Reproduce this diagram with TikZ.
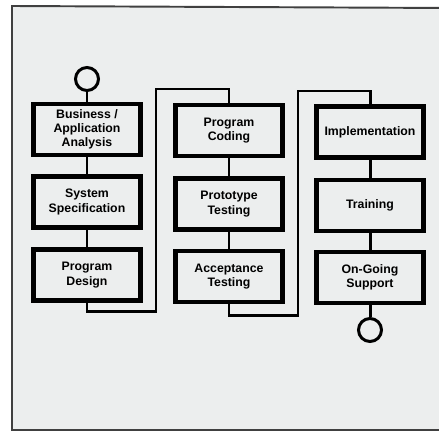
\documentclass[tikz,border=0pt]{standalone}
\usepackage{fontspec}
\setsansfont{Liberation Sans}
\usetikzlibrary{positioning}
\definecolor{paper}{HTML}{ECEEEE}
\tikzset{
    stage/.style={draw, line width=2.3pt, fill=paper, minimum width=2.14cm,
        minimum height=1.02cm, align=center,
        font=\sffamily\bfseries\fontsize{7}{8.1}\selectfont},
    terminal/.style={draw, circle, line width=1.7pt, minimum size=0.46cm, inner sep=0pt},
    link/.style={line width=1.7pt}
}

\begin{document}
\begin{tikzpicture}[x=0.02cm, y=-0.02cm]
        \useasboundingbox (0, 0) rectangle (439, 432);
        \clip (0, 0) rectangle (439, 432);
        \fill[paper] (12, 7) rectangle (450, 430);
        \draw[line width=1.1pt, black!75] (450, 8) -- (12, 6) -- (12, 430) -- (450, 430);
        % first column
        \node[stage] (ba) at (87, 129.5) {Business /\\Application\\Analysis};
        \node[stage] (ss) at (87, 202) {System\\Specification};
        \node[stage] (pd) at (87, 275) {Program\\Design};
        % second column
        \node[stage] (pc) at (229, 130.5) {Program\\Coding};
        \node[stage] (pt) at (229, 204) {Prototype\\Testing};
        \node[stage] (at) at (229, 276.5) {Acceptance\\Testing};
        % third column
        \node[stage] (im) at (370, 132) {Implementation};
        \node[stage] (tr) at (370, 205.5) {Training};
        \node[stage] (os) at (370, 277.5) {On-Going\\Support};
        \node[terminal] (start) at (87, 79) {};
        \node[terminal] (stop) at (370, 330) {};
        \coordinate (up1) at (156, 89);
        \coordinate (up2) at (298, 91);
        \draw[link] (start) -- (ba);
        \draw[link] (ba) -- (ss);
        \draw[link] (ss) -- (pd);
        \draw[link] (pd.south) -- ++(0, 9) -| (up1) -| (pc.north);
        \draw[link] (pc) -- (pt);
        \draw[link] (pt) -- (at);
        \draw[link] (at.south) -- ++(0, 11) -| (up2) -| (im.north);
        \draw[link] (im) -- (tr);
        \draw[link] (tr) -- (os);
        \draw[link] (os) -- (stop);
    \end{tikzpicture}
\end{document}
